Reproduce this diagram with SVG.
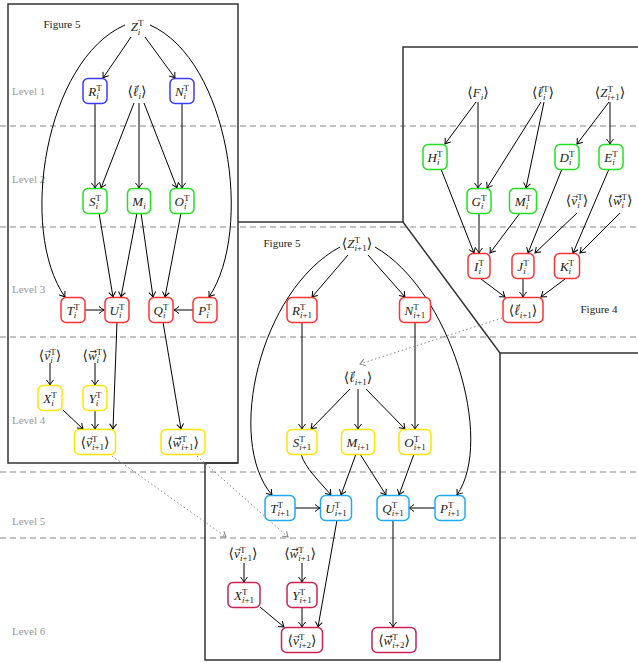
<svg xmlns="http://www.w3.org/2000/svg" width="638" height="663" viewBox="0 0 638 663">
<style>
.lb{font-family:"Liberation Serif","DejaVu Serif",serif;font-size:13px;font-style:italic;text-anchor:middle;fill:#222}
.up{font-style:normal}
.sc{font-size:9px}
.br{font-size:14px;font-style:normal}
.ar{font-family:"DejaVu Sans",sans-serif;font-size:7px;font-style:normal}
.ar9{font-family:"DejaVu Sans",sans-serif;font-size:9px;font-style:normal}
.ar6{font-family:"DejaVu Sans",sans-serif;font-size:6px;font-style:normal}
.fig{font-family:"Liberation Serif","DejaVu Serif",serif;font-size:11px;fill:#222;text-anchor:middle}
.lvl{font-family:"Liberation Serif","DejaVu Serif",serif;font-size:11px;fill:#9a9a9a}
.dash{stroke:#888;stroke-width:1.2;stroke-dasharray:6,4;fill:none}
.pan{stroke:#333;stroke-width:1.5;fill:none}
rect{fill:#fff;stroke-width:1.5}
.bl{stroke:#3a3aff}.gr{stroke:#22e022}.rd{stroke:#ff3333}.yl{stroke:#ffe600}.cy{stroke:#22aaee}.cr{stroke:#cc2255}
.e path{stroke:#000;stroke-width:1;fill:none;marker-end:url(#a)}
.e path.dot{stroke:#888;stroke-dasharray:1.5,2.5;marker-end:url(#ag)}
</style>
<defs>
<marker id="a" viewBox="-6 -4 7 8" refX="0" refY="0" markerWidth="7" markerHeight="8" markerUnits="userSpaceOnUse" orient="auto"><path d="M-5,-3.5 Q-2,-1 0,0 Q-2,1 -5,3.5" fill="none" stroke="#000" stroke-width="1"/></marker>
<marker id="ag" viewBox="-6 -4 7 8" refX="0" refY="0" markerWidth="7" markerHeight="8" markerUnits="userSpaceOnUse" orient="auto"><path d="M-5,-3.5 Q-2,-1 0,0 Q-2,1 -5,3.5" fill="none" stroke="#888" stroke-width="1"/></marker>
</defs>
<rect x="0" y="0" width="638" height="663" style="fill:#fff;stroke:none"/>
<g id="levels">
<line class="dash" x1="0" y1="126" x2="638" y2="126"/>
<line class="dash" x1="0" y1="227" x2="638" y2="227"/>
<line class="dash" x1="0" y1="337" x2="638" y2="337"/>
<line class="dash" x1="0" y1="472" x2="638" y2="472"/>
<line class="dash" x1="0" y1="538" x2="638" y2="538"/>
<text class="lvl" x="12" y="95">Level 1</text>
<text class="lvl" x="12" y="183">Level 2</text>
<text class="lvl" x="12" y="293">Level 3</text>
<text class="lvl" x="12" y="424">Level 4</text>
<text class="lvl" x="12" y="525">Level 5</text>
<text class="lvl" x="12" y="635">Level 6</text>
</g>
<g id="panels">
<rect class="pan" x="8" y="4" width="230" height="459" style="fill:none;stroke:#333"/>
<path class="pan" d="M238,222 L403,222 L500,353 L500,660 L205,660 L205,463 L238,463"/>
<path class="pan" d="M640,47 L403,47 L403,222 M500,353 L640,353"/>
<text class="fig" x="62" y="28">Figure 5</text>
<text class="fig" x="282" y="247">Figure 5</text>
<text class="fig" x="599" y="313">Figure 4</text>
</g>
<g id="connectors" class="e">
<path d="M131,37 L103,78"/>
<path d="M145,37 L175,78"/>
<path d="M125,25 C45,60 18,230 65,297"/>
<path d="M150,25 C229,60 254,230 209,297"/>
<path d="M95,103 L95,188"/>
<path d="M182,103 L182,188"/>
<path d="M134,103 L101,188"/>
<path d="M139,103 L139,188"/>
<path d="M144,103 L177,188"/>
<path d="M99,213 L113,297"/>
<path d="M137,213 L121,297"/>
<path d="M141,213 L153,297"/>
<path d="M181,213 L165,297"/>
<path d="M85,310 L104,310"/>
<path d="M193,310 L174,310"/>
<path d="M117,322 L113,429"/>
<path d="M163,322 L181,429"/>
<path d="M50,363 L50,385"/>
<path d="M95,363 L95,385"/>
<path d="M63,410 L83,429"/>
<path d="M95,410 L95,429"/>
<path d="M476,102 L445,144"/>
<path d="M478,102 L478,188"/>
<path d="M541,102 L487,188"/>
<path d="M544,102 L526,188"/>
<path d="M609,102 L577,144"/>
<path d="M610,102 L610,144"/>
<path d="M441,169 L474,253"/>
<path d="M479,213 L479,253"/>
<path d="M520,213 L490,253"/>
<path d="M562,169 L528,253"/>
<path d="M577,213 L535,253"/>
<path d="M609,169 L573,253"/>
<path d="M620,213 L580,253"/>
<path d="M481,279 L505,297"/>
<path d="M523,279 L523,297"/>
<path d="M565,279 L541,297"/>
<path d="M348,255 L312,297"/>
<path d="M368,255 L405,297"/>
<path d="M340,247 C260,290 225,440 272,495"/>
<path d="M375,247 C450,290 495,440 457,495"/>
<path d="M302,323 L302,429"/>
<path d="M415,323 L415,429"/>
<path d="M350,389 L311,429"/>
<path d="M358,389 L358,429"/>
<path d="M366,389 L405,429"/>
<path d="M301,454 C305,468 320,482 331,495"/>
<path d="M356,454 L341,495"/>
<path d="M360,454 L386,495"/>
<path d="M414,454 L399,495"/>
<path d="M294,508 L320,508"/>
<path d="M435,508 L409,508"/>
<path d="M337,520 L318,627"/>
<path d="M393,520 L393,627"/>
<path d="M244,563 L244,582"/>
<path d="M302,563 L302,582"/>
<path d="M260,607 L284,627"/>
<path d="M302,607 L302,627"/>
<path class="dot" d="M112,456 L226,537"/>
<path class="dot" d="M197,456 L288,537"/>
<path class="dot" d="M502,318 L360,364"/>
</g>
<!-- Left panel nodes -->
<g id="Zi"><text class="lb" x="137" y="31">Z<tspan class="sc" dy="3.5">i</tspan><tspan class="sc up" dx="-2.5" dy="-8.5">T</tspan></text></g>
<g id="Ri"><rect class="bl" x="83" y="78.5" width="24" height="25" rx="5"/><text class="lb" x="95" y="95.5">R<tspan class="sc" dy="3.5">i</tspan><tspan class="sc up" dx="-2.5" dy="-8.5">T</tspan></text></g>
<g id="li"><text class="lb" x="137" y="95.5"><tspan class="br">⟨</tspan>ℓ<tspan class="ar6" dx="-4.25" dy="-8">→</tspan><tspan class="sc" dx="-0.75" dy="11.5">i</tspan><tspan class="br" dy="-3.5">⟩</tspan></text></g>
<g id="Ni"><rect class="bl" x="170" y="78.5" width="24" height="25" rx="5"/><text class="lb" x="182" y="95.5">N<tspan class="sc" dy="3.5">i</tspan><tspan class="sc up" dx="-2.5" dy="-8.5">T</tspan></text></g>
<g id="Si"><rect class="gr" x="83" y="188.5" width="24" height="25" rx="5"/><text class="lb" x="95" y="205.5">S<tspan class="sc" dy="3.5">i</tspan><tspan class="sc up" dx="-2.5" dy="-8.5">T</tspan></text></g>
<g id="Mi"><rect class="gr" x="127.5" y="188.5" width="23" height="25" rx="5"/><text class="lb" x="139" y="205.5">M<tspan class="sc" dy="3.5">i</tspan></text></g>
<g id="Oi"><rect class="gr" x="170" y="188.5" width="24" height="25" rx="5"/><text class="lb" x="182" y="205.5">O<tspan class="sc" dy="3.5">i</tspan><tspan class="sc up" dx="-2.5" dy="-8.5">T</tspan></text></g>
<g id="Ti"><rect class="rd" x="61" y="297.5" width="24" height="25" rx="5"/><text class="lb" x="73" y="314.5">T<tspan class="sc" dy="3.5">i</tspan><tspan class="sc up" dx="-2.5" dy="-8.5">T</tspan></text></g>
<g id="Ui"><rect class="rd" x="105" y="297.5" width="24" height="25" rx="5"/><text class="lb" x="117" y="314.5">U<tspan class="sc" dy="3.5">i</tspan><tspan class="sc up" dx="-2.5" dy="-8.5">T</tspan></text></g>
<g id="Qi"><rect class="rd" x="149" y="297.5" width="24" height="25" rx="5"/><text class="lb" x="161" y="314.5">Q<tspan class="sc" dy="3.5">i</tspan><tspan class="sc up" dx="-2.5" dy="-8.5">T</tspan></text></g>
<g id="Pi"><rect class="rd" x="193" y="297.5" width="24" height="25" rx="5"/><text class="lb" x="205" y="314.5">P<tspan class="sc" dy="3.5">i</tspan><tspan class="sc up" dx="-2.5" dy="-8.5">T</tspan></text></g>
<g id="vi"><text class="lb" x="50" y="359.5"><tspan class="br">⟨</tspan>v<tspan class="ar" dx="-4.8" dy="-6">→</tspan><tspan class="sc" dx="-1" dy="9.5">i</tspan><tspan class="sc up" dx="-2.5" dy="-8.5">T</tspan><tspan class="br" dy="5">⟩</tspan></text></g>
<g id="wi"><text class="lb" x="95" y="359.5"><tspan class="br">⟨</tspan>w<tspan class="ar9" dx="-7.1" dy="-6">→</tspan><tspan class="sc" dx="-0.4" dy="9.5">i</tspan><tspan class="sc up" dx="-2.5" dy="-8.5">T</tspan><tspan class="br" dy="5">⟩</tspan></text></g>
<g id="Xi"><rect class="yl" x="38" y="385.5" width="24" height="25" rx="5"/><text class="lb" x="50" y="402.5">X<tspan class="sc" dy="3.5">i</tspan><tspan class="sc up" dx="-2.5" dy="-8.5">T</tspan></text></g>
<g id="Yi"><rect class="yl" x="83" y="385.5" width="24" height="25" rx="5"/><text class="lb" x="95" y="402.5">Y<tspan class="sc" dy="3.5">i</tspan><tspan class="sc up" dx="-2.5" dy="-8.5">T</tspan></text></g>
<g id="vi1"><rect class="yl" x="74.5" y="429.5" width="41" height="25" rx="5"/><text class="lb" x="95" y="446.5"><tspan class="br">⟨</tspan>v<tspan class="ar" dx="-4.8" dy="-6">→</tspan><tspan class="sc up" dx="-1" dy="1">T</tspan><tspan class="sc" dx="-5.5" dy="8.5">i<tspan class="up">+1</tspan></tspan><tspan class="br" dy="-3.5">⟩</tspan></text></g>
<g id="wi1"><rect class="yl" x="161" y="429.5" width="44" height="25" rx="5"/><text class="lb" x="183" y="446.5"><tspan class="br">⟨</tspan>w<tspan class="ar9" dx="-7.1" dy="-6">→</tspan><tspan class="sc up" dx="-0.4" dy="1">T</tspan><tspan class="sc" dx="-5.5" dy="8.5">i<tspan class="up">+1</tspan></tspan><tspan class="br" dy="-3.5">⟩</tspan></text></g>
<!-- Right panel nodes -->
<g id="Fi"><text class="lb" x="478" y="96.5"><tspan class="br">⟨</tspan>F<tspan class="sc" dy="3.5">i</tspan><tspan class="br" dy="-3.5">⟩</tspan></text></g>
<g id="liT"><text class="lb" x="543" y="96.5"><tspan class="br">⟨</tspan>ℓ<tspan class="ar6" dx="-4.25" dy="-8">→</tspan><tspan class="sc" dx="-0.75" dy="11.5">i</tspan><tspan class="sc up" dx="-2.5" dy="-8.5">T</tspan><tspan class="br" dy="5">⟩</tspan></text></g>
<g id="Zi1"><text class="lb" x="610" y="96.5"><tspan class="br">⟨</tspan>Z<tspan class="sc up" dy="-5">T</tspan><tspan class="sc" dx="-5.5" dy="8.5">i<tspan class="up">+1</tspan></tspan><tspan class="br" dy="-3.5">⟩</tspan></text></g>
<g id="Hi"><rect class="gr" x="423" y="144.5" width="24" height="25" rx="5"/><text class="lb" x="435" y="161.5">H<tspan class="sc" dy="3.5">i</tspan><tspan class="sc up" dx="-2.5" dy="-8.5">T</tspan></text></g>
<g id="Di"><rect class="gr" x="555" y="144.5" width="24" height="25" rx="5"/><text class="lb" x="567" y="161.5">D<tspan class="sc" dy="3.5">i</tspan><tspan class="sc up" dx="-2.5" dy="-8.5">T</tspan></text></g>
<g id="Ei"><rect class="gr" x="599" y="144.5" width="24" height="25" rx="5"/><text class="lb" x="611" y="161.5">E<tspan class="sc" dy="3.5">i</tspan><tspan class="sc up" dx="-2.5" dy="-8.5">T</tspan></text></g>
<g id="Gi"><rect class="gr" x="467" y="188.5" width="24" height="25" rx="5"/><text class="lb" x="479" y="205.5">G<tspan class="sc" dy="3.5">i</tspan><tspan class="sc up" dx="-2.5" dy="-8.5">T</tspan></text></g>
<g id="MiT"><rect class="gr" x="509.5" y="188.5" width="27" height="25" rx="5"/><text class="lb" x="523" y="205.5">M<tspan class="sc" dy="3.5">i</tspan><tspan class="sc up" dx="-2.5" dy="-8.5">T</tspan></text></g>
<g id="viR"><text class="lb" x="577" y="204.5"><tspan class="br">⟨</tspan>v<tspan class="ar" dx="-4.8" dy="-6">→</tspan><tspan class="sc" dx="-1" dy="9.5">i</tspan><tspan class="sc up" dx="-2.5" dy="-8.5">T</tspan><tspan class="br" dy="5">⟩</tspan></text></g>
<g id="wiR"><text class="lb" x="620" y="204.5"><tspan class="br">⟨</tspan>w<tspan class="ar9" dx="-7.1" dy="-6">→</tspan><tspan class="sc" dx="-0.4" dy="9.5">i</tspan><tspan class="sc up" dx="-2.5" dy="-8.5">T</tspan><tspan class="br" dy="5">⟩</tspan></text></g>
<g id="Ii"><rect class="rd" x="468" y="253.5" width="22" height="25" rx="5"/><text class="lb" x="479" y="270.5">I<tspan class="sc" dy="3.5">i</tspan><tspan class="sc up" dx="-2.5" dy="-8.5">T</tspan></text></g>
<g id="Ji"><rect class="rd" x="512" y="253.5" width="22" height="25" rx="5"/><text class="lb" x="523" y="270.5">J<tspan class="sc" dy="3.5">i</tspan><tspan class="sc up" dx="-2.5" dy="-8.5">T</tspan></text></g>
<g id="Ki"><rect class="rd" x="554.5" y="253.5" width="25" height="25" rx="5"/><text class="lb" x="567" y="270.5">K<tspan class="sc" dy="3.5">i</tspan><tspan class="sc up" dx="-2.5" dy="-8.5">T</tspan></text></g>
<g id="li1R"><rect class="rd" x="503" y="297.5" width="40" height="25" rx="5"/><text class="lb" x="523" y="314.5"><tspan class="br">⟨</tspan>ℓ<tspan class="ar6" dx="-4.25" dy="-8">→</tspan><tspan class="sc" dx="-0.75" dy="11.5">i<tspan class="up">+1</tspan></tspan><tspan class="br" dy="-3.5">⟩</tspan></text></g>
<!-- Middle panel nodes -->
<g id="Zi1M"><text class="lb" x="357" y="247.5"><tspan class="br">⟨</tspan>Z<tspan class="sc up" dy="-5">T</tspan><tspan class="sc" dx="-5.5" dy="8.5">i<tspan class="up">+1</tspan></tspan><tspan class="br" dy="-3.5">⟩</tspan></text></g>
<g id="Ri1"><rect class="rd" x="287" y="297.5" width="30" height="25" rx="5"/><text class="lb" x="302" y="314.5">R<tspan class="sc up" dy="-5">T</tspan><tspan class="sc" dx="-5.5" dy="8.5">i<tspan class="up">+1</tspan></tspan></text></g>
<g id="Ni1"><rect class="rd" x="399.5" y="297.5" width="31" height="25" rx="5"/><text class="lb" x="415" y="314.5">N<tspan class="sc up" dy="-5">T</tspan><tspan class="sc" dx="-5.5" dy="8.5">i<tspan class="up">+1</tspan></tspan></text></g>
<g id="li1M"><text class="lb" x="358" y="381.5"><tspan class="br">⟨</tspan>ℓ<tspan class="ar6" dx="-4.25" dy="-8">→</tspan><tspan class="sc" dx="-0.75" dy="11.5">i<tspan class="up">+1</tspan></tspan><tspan class="br" dy="-3.5">⟩</tspan></text></g>
<g id="Si1"><rect class="yl" x="287" y="429.5" width="30" height="25" rx="5"/><text class="lb" x="302" y="446.5">S<tspan class="sc up" dy="-5">T</tspan><tspan class="sc" dx="-5.5" dy="8.5">i<tspan class="up">+1</tspan></tspan></text></g>
<g id="Mi1"><rect class="yl" x="341.5" y="429.5" width="33" height="25" rx="5"/><text class="lb" x="358" y="446.5">M<tspan class="sc" dy="3.5">i<tspan class="up">+1</tspan></tspan></text></g>
<g id="Oi1"><rect class="yl" x="399" y="429.5" width="32" height="25" rx="5"/><text class="lb" x="415" y="446.5">O<tspan class="sc up" dy="-5">T</tspan><tspan class="sc" dx="-5.5" dy="8.5">i<tspan class="up">+1</tspan></tspan></text></g>
<g id="Ti1"><rect class="cy" x="265" y="495.5" width="30" height="25" rx="5"/><text class="lb" x="280" y="512.5">T<tspan class="sc up" dy="-5">T</tspan><tspan class="sc" dx="-5.5" dy="8.5">i<tspan class="up">+1</tspan></tspan></text></g>
<g id="Ui1"><rect class="cy" x="320.5" y="495.5" width="31" height="25" rx="5"/><text class="lb" x="336" y="512.5">U<tspan class="sc up" dy="-5">T</tspan><tspan class="sc" dx="-5.5" dy="8.5">i<tspan class="up">+1</tspan></tspan></text></g>
<g id="Qi1"><rect class="cy" x="377" y="495.5" width="32" height="25" rx="5"/><text class="lb" x="393" y="512.5">Q<tspan class="sc up" dy="-5">T</tspan><tspan class="sc" dx="-5.5" dy="8.5">i<tspan class="up">+1</tspan></tspan></text></g>
<g id="Pi1"><rect class="cy" x="435" y="495.5" width="30" height="25" rx="5"/><text class="lb" x="450" y="512.5">P<tspan class="sc up" dy="-5">T</tspan><tspan class="sc" dx="-5.5" dy="8.5">i<tspan class="up">+1</tspan></tspan></text></g>
<g id="vi1M"><text class="lb" x="243" y="557.5"><tspan class="br">⟨</tspan>v<tspan class="ar" dx="-4.8" dy="-6">→</tspan><tspan class="sc up" dx="-1" dy="1">T</tspan><tspan class="sc" dx="-5.5" dy="8.5">i<tspan class="up">+1</tspan></tspan><tspan class="br" dy="-3.5">⟩</tspan></text></g>
<g id="wi1M"><text class="lb" x="300" y="557.5"><tspan class="br">⟨</tspan>w<tspan class="ar9" dx="-7.1" dy="-6">→</tspan><tspan class="sc up" dx="-0.4" dy="1">T</tspan><tspan class="sc" dx="-5.5" dy="8.5">i<tspan class="up">+1</tspan></tspan><tspan class="br" dy="-3.5">⟩</tspan></text></g>
<g id="Xi1"><rect class="cr" x="228" y="582.5" width="32" height="25" rx="5"/><text class="lb" x="244" y="599.5">X<tspan class="sc up" dy="-5">T</tspan><tspan class="sc" dx="-5.5" dy="8.5">i<tspan class="up">+1</tspan></tspan></text></g>
<g id="Yi1"><rect class="cr" x="287" y="582.5" width="30" height="25" rx="5"/><text class="lb" x="302" y="599.5">Y<tspan class="sc up" dy="-5">T</tspan><tspan class="sc" dx="-5.5" dy="8.5">i<tspan class="up">+1</tspan></tspan></text></g>
<g id="vi2"><rect class="cr" x="281.5" y="627.5" width="41" height="25" rx="5"/><text class="lb" x="302" y="644.5"><tspan class="br">⟨</tspan>v<tspan class="ar" dx="-4.8" dy="-6">→</tspan><tspan class="sc up" dx="-1" dy="1">T</tspan><tspan class="sc" dx="-5.5" dy="8.5">i<tspan class="up">+2</tspan></tspan><tspan class="br" dy="-3.5">⟩</tspan></text></g>
<g id="wi2"><rect class="cr" x="372" y="627.5" width="44" height="25" rx="5"/><text class="lb" x="394" y="644.5"><tspan class="br">⟨</tspan>w<tspan class="ar9" dx="-7.1" dy="-6">→</tspan><tspan class="sc up" dx="-0.4" dy="1">T</tspan><tspan class="sc" dx="-5.5" dy="8.5">i<tspan class="up">+2</tspan></tspan><tspan class="br" dy="-3.5">⟩</tspan></text></g>
</svg>
